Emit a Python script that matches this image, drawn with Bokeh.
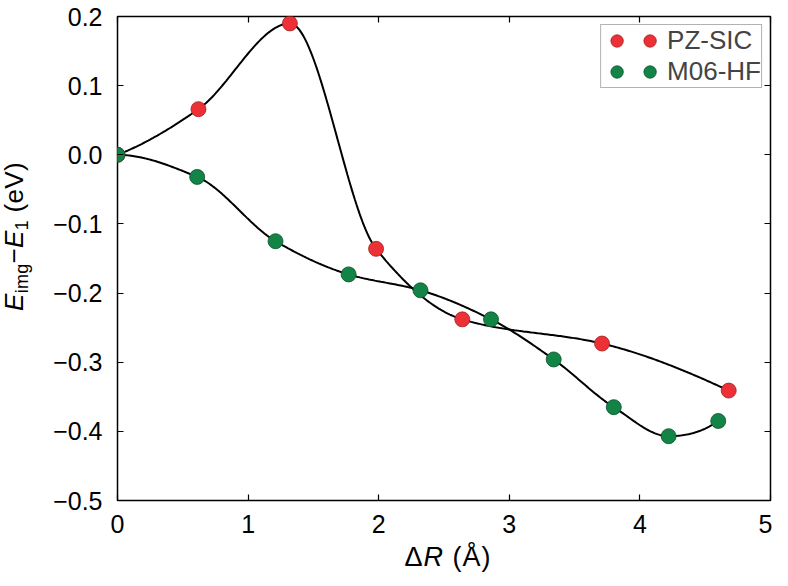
import numpy as np
from bokeh.plotting import figure
from bokeh.layouts import row, column
from bokeh.models import (Range1d, FixedTicker, LinearAxis, CustomJSTickFormatter,
                          Legend, LegendItem, Div)
from bokeh.embed import file_html
from bokeh.resources import INLINE

# ---------------- data ----------------
pz_x = [0.0, 0.62, 1.32, 1.98, 2.64, 3.71, 4.68]
pz_y = [0.0, 0.066, 0.190, -0.136, -0.238, -0.273, -0.341]

m06_x = [0.0, 0.61, 1.21, 1.77, 2.32, 2.86, 3.34, 3.80, 4.22, 4.60]
m06_y = [0.0, -0.032, -0.125, -0.173, -0.196, -0.238, -0.296, -0.365, -0.407, -0.385]

x_ticks = [0, 1, 2, 3, 4, 5]
x_tick_labels = ["0", "1", "2", "3", "4", "5"]
y_ticks = [-0.5, -0.4, -0.3, -0.2, -0.1, 0.0, 0.1, 0.2]
y_tick_labels = ["\u22120.5", "\u22120.4", "\u22120.3", "\u22120.2", "\u22120.1", "0.0", "0.1", "0.2"]

series_names = ["PZ-SIC", "M06-HF"]
RED = "#EC3036"
GREEN = "#128446"
FONT = "Liberation Sans"


def pchip(x, y, xs):
    """Shape-preserving piecewise cubic Hermite curve through the given points."""
    x = np.asarray(x, float)
    y = np.asarray(y, float)
    h = np.diff(x)
    d = np.diff(y) / h
    n = len(x)
    m = np.zeros(n)
    for k in range(1, n - 1):
        if d[k - 1] * d[k] > 0:
            w1 = 2 * h[k] + h[k - 1]
            w2 = h[k] + 2 * h[k - 1]
            m[k] = (w1 + w2) / (w1 / d[k - 1] + w2 / d[k])

    def end(h0, h1, d0, d1):
        mm = ((2 * h0 + h1) * d0 - h0 * d1) / (h0 + h1)
        if np.sign(mm) != np.sign(d0):
            mm = 0.0
        elif np.sign(d0) != np.sign(d1) and abs(mm) > abs(3 * d0):
            mm = 3 * d0
        return mm

    m[0] = end(h[0], h[1], d[0], d[1])
    m[-1] = end(h[-1], h[-2], d[-1], d[-2])
    xs = np.asarray(xs, float)
    idx = np.clip(np.searchsorted(x, xs) - 1, 0, n - 2)
    t = (xs - x[idx]) / h[idx]
    h00 = 2 * t**3 - 3 * t**2 + 1
    h10 = t**3 - 2 * t**2 + t
    h01 = -2 * t**3 + 3 * t**2
    h11 = t**3 - t**2
    return h00 * y[idx] + h10 * h[idx] * m[idx] + h01 * y[idx + 1] + h11 * h[idx] * m[idx + 1]


# ---------------- layout sizes ----------------
TOTAL_W, TOTAL_H = 772, 570
YDIV_W = 40
PW, PH = TOTAL_W - YDIV_W, 543
BL, BR, BT, BB = 117 - YDIV_W, 2, 16, 43

p = figure(width=PW, height=PH, output_backend="svg", toolbar_location=None,
           x_range=Range1d(0, 5), y_range=Range1d(-0.5, 0.2),
           min_border_left=BL, min_border_right=BR, min_border_top=BT, min_border_bottom=BB)
p.grid.visible = False
p.outline_line_color = "black"
p.outline_line_width = 1.5
p.background_fill_color = "white"
p.border_fill_color = "white"

fmt_code = """
const i = vals.findIndex(v => Math.abs(v - tick) < 1e-9);
return i >= 0 ? labs[i] : '';
"""
p.xaxis.ticker = FixedTicker(ticks=x_ticks)
p.xaxis.formatter = CustomJSTickFormatter(args=dict(vals=x_ticks, labs=x_tick_labels), code=fmt_code)
p.yaxis.ticker = FixedTicker(ticks=y_ticks)
p.yaxis.formatter = CustomJSTickFormatter(args=dict(vals=y_ticks, labs=y_tick_labels), code=fmt_code)
for ax in (p.xaxis[0], p.yaxis[0]):
    ax.axis_line_color = None
    ax.major_tick_in = 6
    ax.major_tick_out = 0
    ax.major_tick_line_width = 1.2
    ax.minor_tick_line_color = None
    ax.major_label_text_font = FONT
    ax.major_label_text_font_size = "25px"
    ax.major_label_text_color = "black"
p.xaxis.major_label_standoff = 14
p.yaxis.major_label_standoff = 15

blank = "return '';"
top = LinearAxis(ticker=FixedTicker(ticks=x_ticks), formatter=CustomJSTickFormatter(code=blank))
right = LinearAxis(ticker=FixedTicker(ticks=y_ticks), formatter=CustomJSTickFormatter(code=blank))
for ax in (top, right):
    ax.axis_line_color = None
    ax.major_tick_in = 6
    ax.major_tick_out = 0
    ax.major_tick_line_width = 1.2
    ax.minor_tick_line_color = None
    ax.major_label_text_font_size = "0px"
    ax.major_label_standoff = 0
p.add_layout(top, "above")
p.add_layout(right, "right")

# curves
xs_pz = np.linspace(pz_x[0], pz_x[-1], 400)
xs_m6 = np.linspace(m06_x[0], m06_x[-1], 400)
p.line(xs_pz, pchip(pz_x, pz_y, xs_pz), line_color="black", line_width=2)
p.line(xs_m6, pchip(m06_x, m06_y, xs_m6), line_color="black", line_width=2)

r_pz = p.scatter(pz_x, pz_y, size=15, fill_color=RED, line_color="#A01F22", line_width=0.8)
r_m6 = p.scatter(m06_x, m06_y, size=15, fill_color=GREEN, line_color="#0A4F2A", line_width=0.8)

legend = Legend(items=[
    LegendItem(label="", renderers=[r_pz]),
    LegendItem(label="", renderers=[r_m6]),
    LegendItem(label=series_names[0], renderers=[r_pz]),
    LegendItem(label=series_names[1], renderers=[r_m6]),
], ncols=2, location="top_right")
legend.glyph_width = 31
legend.glyph_height = 31
legend.label_width = 0
legend.label_height = 0
legend.label_standoff = 2
legend.spacing = -2
legend.padding = 0
legend.margin = 8
legend.label_text_font = FONT
legend.label_text_font_size = "26px"
legend.border_line_color = "#666666"
legend.border_line_width = 1
legend.background_fill_alpha = 1
p.add_layout(legend)

# ---------------- axis titles (real HTML text with italics / subscripts) ----------------
ylab_html = (
    f'<div style="position:relative;width:{YDIV_W}px;height:{PH}px;">'
    '<div style="position:absolute;left:1px;top:311px;transform:rotate(-90deg);'
    "transform-origin:0 0;white-space:nowrap;font-family:'Liberation Sans';"
    'font-size:26px;letter-spacing:0.3px;line-height:1;color:black;">'
    '<i>E</i><span style="font-size:18px;position:relative;top:5px;">img</span>'
    '\u2212<i>E</i><span style="font-size:18px;position:relative;top:5px;">1</span> (eV)'
    '</div></div>'
)
ydiv = Div(text=ylab_html, width=YDIV_W, height=PH, margin=0)

XDIV_H = TOTAL_H - PH
xlab_html = (
    f'<div style="position:relative;width:{TOTAL_W}px;height:{XDIV_H}px;">'
    '<div style="position:absolute;left:448px;top:1px;transform:translateX(-50%);'
    "white-space:nowrap;font-family:'Liberation Sans';font-size:27px;letter-spacing:1px;"
    'line-height:1;color:black;">'
    '\u0394<i>R</i> (\u00c5)</div></div>'
)
xdiv = Div(text=xlab_html, width=TOTAL_W, height=XDIV_H, margin=0)

layout = column(row(ydiv, p, spacing=0), xdiv, spacing=0)

open("out.html", "w").write(file_html(layout, INLINE))
